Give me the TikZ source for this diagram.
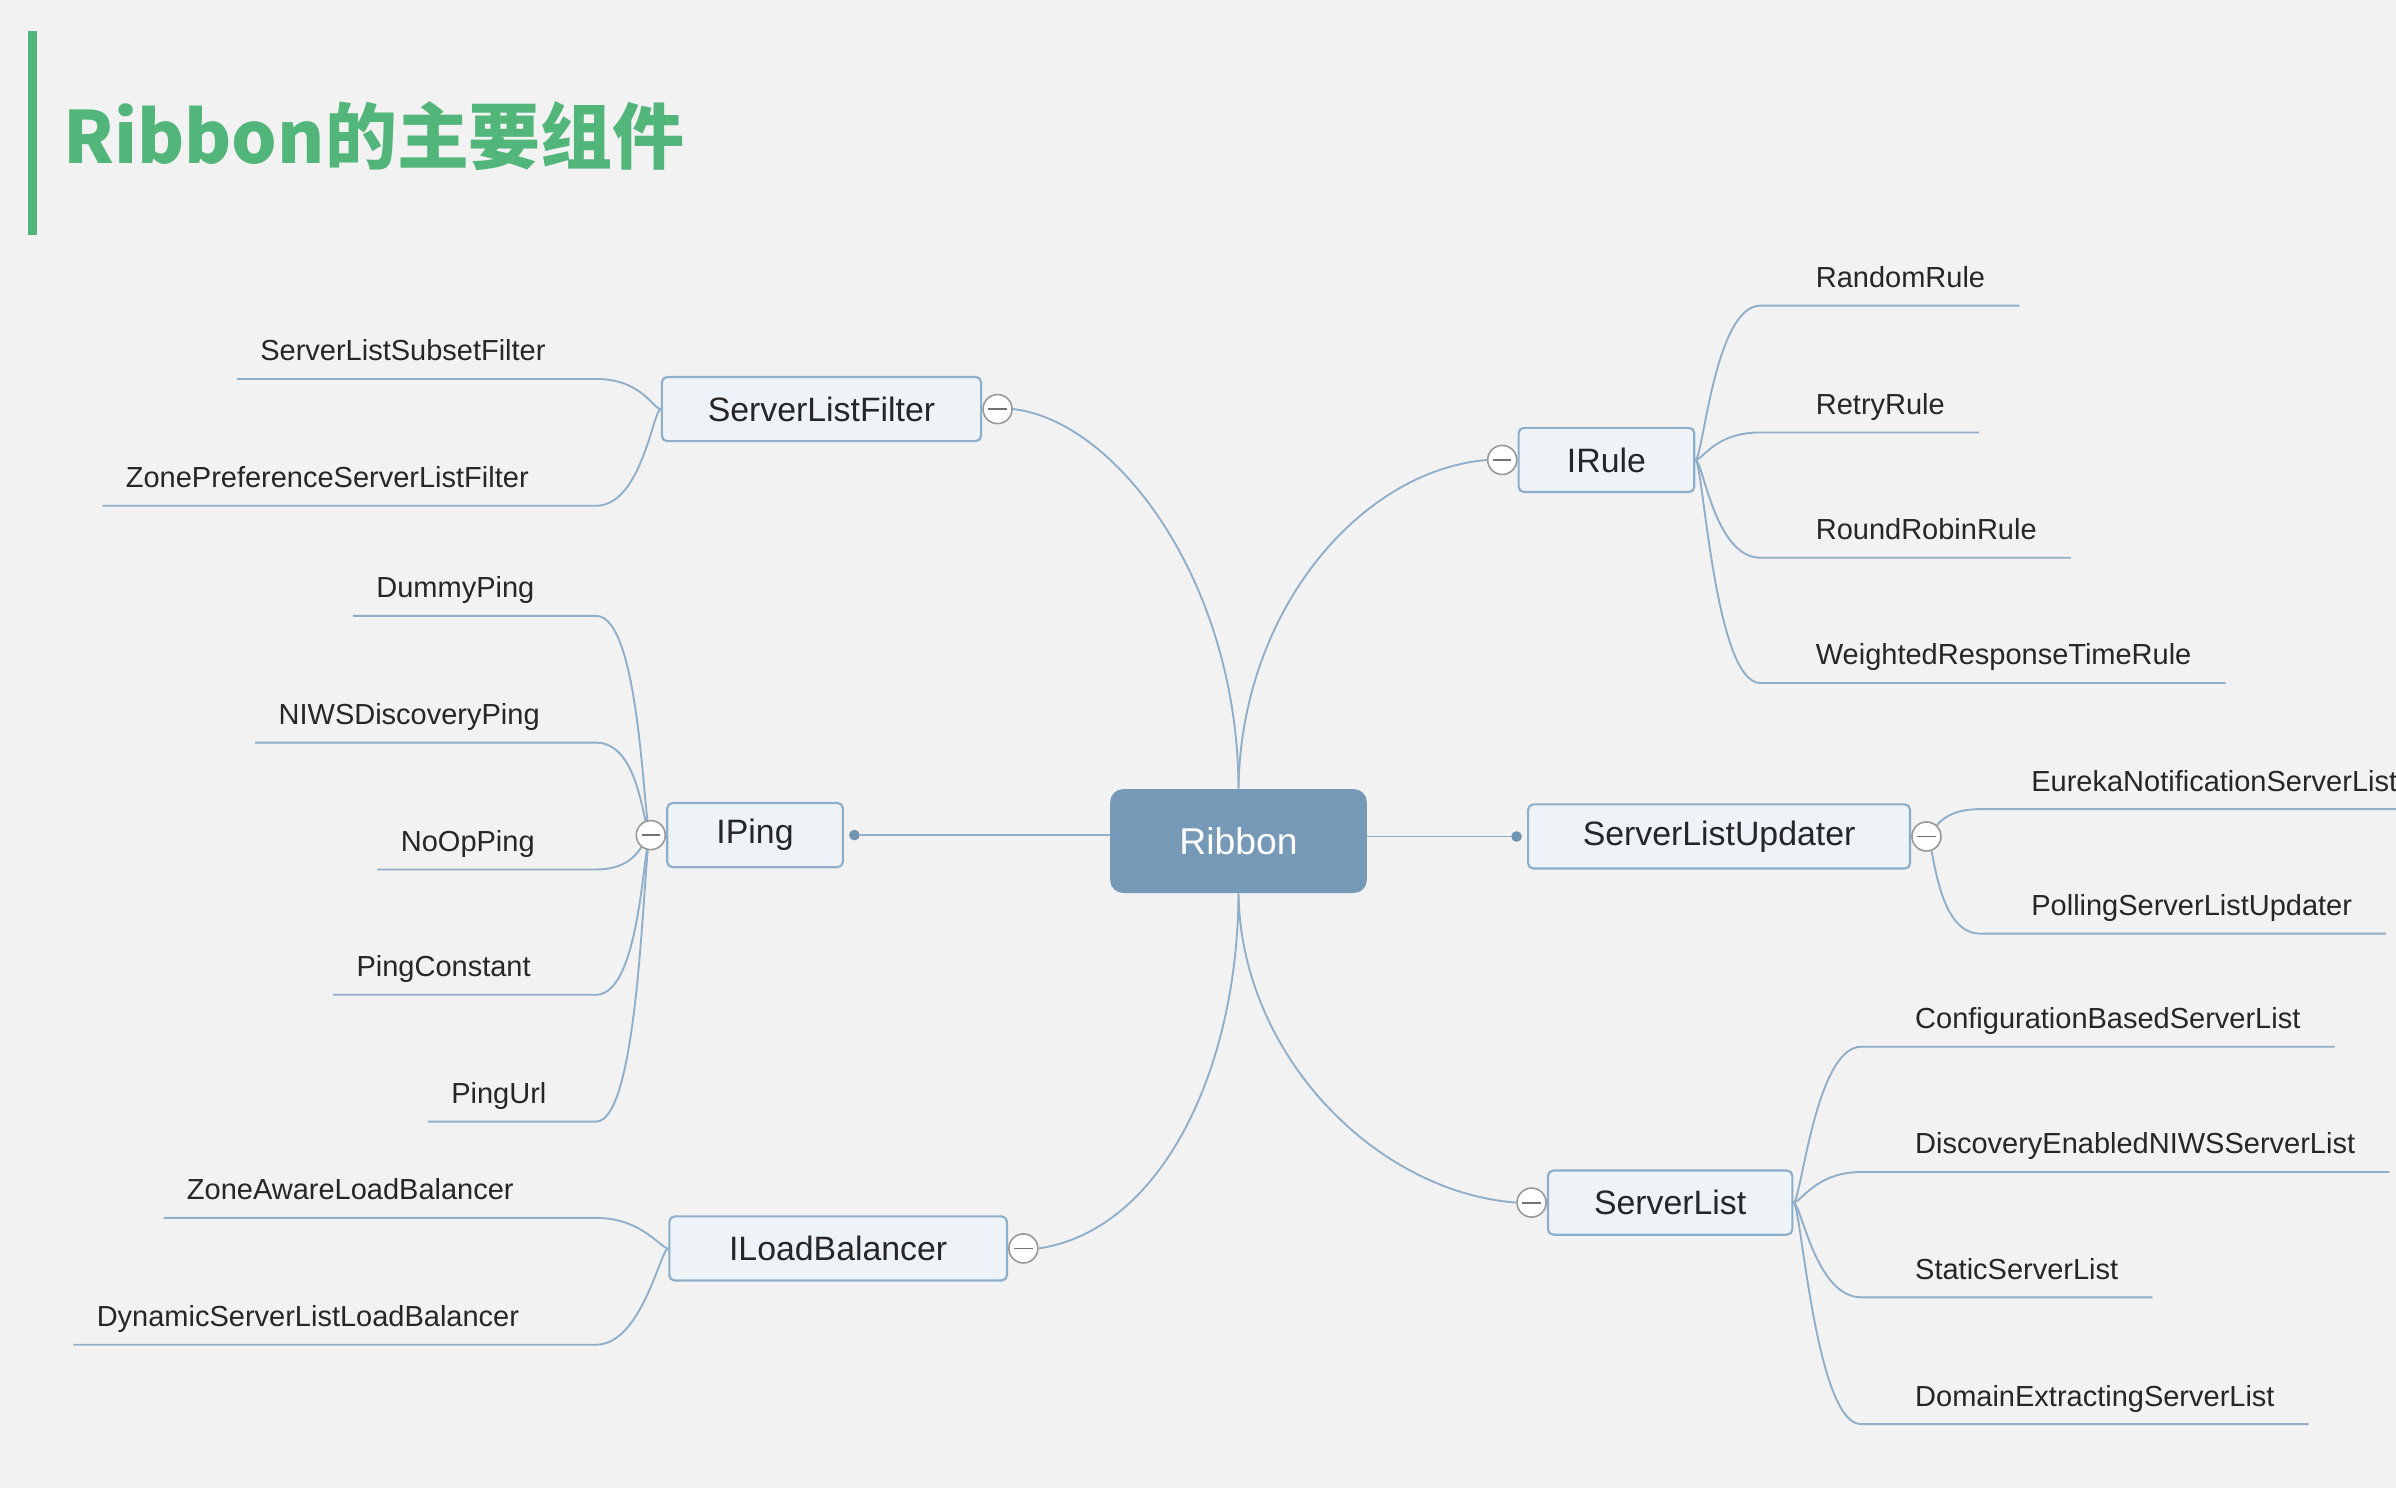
\documentclass[tikz,border=0pt]{standalone}
\usepackage{fontspec}
\setmainfont{Liberation Sans}
\newfontfamily\cjk{Noto Sans CJK SC}
\usetikzlibrary{positioning, backgrounds}

\definecolor{bgcol}{HTML}{F2F2F2}
\definecolor{titlegreen}{HTML}{52B67A}
\definecolor{twigblue}{HTML}{8FAEC9}
\definecolor{edgeblue}{HTML}{8DAECB}
\definecolor{boxfill}{HTML}{EEF3F8}
\definecolor{rootblue}{HTML}{7699B8}
\definecolor{dotblue}{HTML}{6F93B3}
\definecolor{inkgray}{HTML}{262626}

\begin{document}
\begin{tikzpicture}[
    x=0.02cm, y=-0.02cm,
    node distance=0pt,
    font=\fontsize{10.8}{13}\selectfont,
    % Estilos de cajas
    rootbox/.style={rectangle, rounded corners=0.17cm, fill=rootblue, text=white, minimum width=3.36cm, minimum height=1.36cm, font=\fontsize{13.9}{16}\selectfont},
    branchbox/.style={rectangle, rounded corners=0.07cm, draw=edgeblue, line width=0.8pt, fill=boxfill, text=inkgray, minimum height=0.84cm, font=\fontsize{12.6}{15}\selectfont},
    leafleft/.style={anchor=south west, inner xsep=0.3cm, inner ysep=0.23cm, text depth=0pt, text=inkgray},
    leafright/.style={leafleft, inner xsep=0.44cm},
    fold/.style={circle, draw=gray!80, fill=white, line width=0.6pt, minimum size=0.38cm, inner sep=0pt,
        path picture={\draw[gray!90!black, line width=0.7pt] ([xshift=-0.12cm]path picture bounding box.center) -- ([xshift=0.12cm]path picture bounding box.center);}},
    joint/.style={circle, fill=dotblue, minimum size=0.14cm, inner sep=0pt},
    twig/.style={draw=twigblue, line width=0.7pt}
]

\begin{scope}[on background layer]
    \fill[bgcol] (0,0) rectangle (1568,974);
\end{scope}
\useasboundingbox (0,0) rectangle (1568,974);

% -------------------------
% TITULO
% -------------------------
\fill[titlegreen] (18,20) rectangle (24,154);
\node[anchor=base west, inner sep=0pt, text=titlegreen, font=\cjk\bfseries\fontsize{26.8}{30}\selectfont] (title) at (41,107) {Ribbon的主要组件};

% -------------------------
% NODOS PRINCIPALES
% -------------------------
\node[rootbox] (ribbon) at (810.5,550.4) {Ribbon};

\node[branchbox, minimum width=4.18cm] (filter) at (537.6,267.7) {ServerListFilter};
\node[branchbox, minimum width=2.3cm] (ping) at (494.1,546.5) {IPing};
\node[branchbox, minimum width=4.42cm] (lb) at (548.5,817) {ILoadBalancer};
\node[branchbox, minimum width=2.3cm] (rule) at (1051.3,301) {IRule};
\node[branchbox, minimum width=5cm] (updater) at (1125,547.4) {ServerListUpdater};
\node[branchbox, minimum width=3.2cm] (list) at (1093,787) {ServerList};

\node[fold, right=of filter] (filterfold) {};
\node[fold, left=of ping] (pingfold) {};
\node[fold, right=of lb] (lbfold) {};
\node[fold, left=of rule] (rulefold) {};
\node[fold, right=of updater] (updfold) {};
\node[fold, left=of list] (listfold) {};

\node[joint, right=0.06cm of ping] (pingdot) {};
\node[joint, left=0.06cm of updater] (upddot) {};

% -------------------------
% HOJAS (Izquierda)
% -------------------------
\coordinate (leftjoin) at (390,0);

\node[leafleft] (sf1) at (155,248) {ServerListSubsetFilter};
\node[leafleft] (sf2) at (67,331) {ZonePreferenceServerListFilter};

\node[leafleft] (ping1) at (231,403) {DummyPing};
\node[leafleft] (ping2) at (167,486) {NIWSDiscoveryPing};
\node[leafleft] (ping3) at (247,569) {NoOpPing};
\node[leafleft] (ping4) at (218,651) {PingConstant};
\node[leafleft] (ping5) at (280,734) {PingUrl};

\node[leafleft] (lb1) at (107,797) {ZoneAwareLoadBalancer};
\node[leafleft] (lb2) at (48,880) {DynamicServerListLoadBalancer};

% -------------------------
% HOJAS (Derecha)
% -------------------------
\coordinate (rulejoin) at (1152,0);
\coordinate (updjoin) at (1296,0);
\coordinate (listjoin) at (1218,0);

\node[leafright] (rule1) at (1166,200) {RandomRule};
\node[leafright] (rule2) at (1166,283) {RetryRule};
\node[leafright] (rule3) at (1166,365) {RoundRobinRule};
\node[leafright] (rule4) at (1166,447) {WeightedResponseTimeRule};

\node[leafright] (upd1) at (1307,529.5) {EurekaNotificationServerList};
\node[leafright] (upd2) at (1307,611) {PollingServerListUpdater};

\node[leafright] (list1) at (1231,685) {ConfigurationBasedServerList};
\node[leafright] (list2) at (1231,767) {DiscoveryEnabledNIWSServerList};
\node[leafright] (list3) at (1231,849) {StaticServerList};
\node[leafright] (list4) at (1231,932) {DomainExtractingServerList};

% -------------------------
% CONEXIONES
% -------------------------
\begin{scope}[on background layer]
    % Ribbon -> ramas
    \draw[twig] (ribbon.west |- pingdot) -- (pingdot);
    \draw[twig] (ribbon.east |- upddot) -- (upddot);
    \draw[twig] (ribbon.north) .. controls (810,380) and (730,275) .. (filterfold.east);
    \draw[twig] (ribbon.north) .. controls (812,400) and (890,308) .. (rulefold.west);
    \draw[twig] (ribbon.south) .. controls (810,700) and (760,805) .. (lbfold.east);
    \draw[twig] (ribbon.south) .. controls (812,690) and (900,780) .. (listfold.west);

    % ramas izquierda -> hojas
    \draw[twig] (filter.west) .. controls +(-0.1cm,0) and +(0.6cm,0) .. (sf1.south west -| leftjoin) -- (sf1.south west);
    \draw[twig] (filter.west) .. controls +(-0.1cm,0) and +(0.6cm,0) .. (sf2.south west -| leftjoin) -- (sf2.south west);
    \draw[twig] (pingfold.center) .. controls +(-0.1cm,0) and +(0.6cm,0) .. (ping1.south west -| leftjoin) -- (ping1.south west);
    \draw[twig] (pingfold.center) .. controls +(-0.1cm,0) and +(0.6cm,0) .. (ping2.south west -| leftjoin) -- (ping2.south west);
    \draw[twig] (pingfold.center) .. controls +(-0.1cm,0) and +(0.6cm,0) .. (ping3.south west -| leftjoin) -- (ping3.south west);
    \draw[twig] (pingfold.center) .. controls +(-0.1cm,0) and +(0.6cm,0) .. (ping4.south west -| leftjoin) -- (ping4.south west);
    \draw[twig] (pingfold.center) .. controls +(-0.1cm,0) and +(0.6cm,0) .. (ping5.south west -| leftjoin) -- (ping5.south west);
    \draw[twig] (lb.west) .. controls +(-0.1cm,0) and +(0.6cm,0) .. (lb1.south west -| leftjoin) -- (lb1.south west);
    \draw[twig] (lb.west) .. controls +(-0.1cm,0) and +(0.6cm,0) .. (lb2.south west -| leftjoin) -- (lb2.south west);

    % ramas derecha -> hojas
    \draw[twig] (rule.east) .. controls +(0.1cm,0) and +(-0.6cm,0) .. (rule1.south west -| rulejoin) -- (rule1.south east);
    \draw[twig] (rule.east) .. controls +(0.1cm,0) and +(-0.6cm,0) .. (rule2.south west -| rulejoin) -- (rule2.south east);
    \draw[twig] (rule.east) .. controls +(0.1cm,0) and +(-0.6cm,0) .. (rule3.south west -| rulejoin) -- (rule3.south east);
    \draw[twig] (rule.east) .. controls +(0.1cm,0) and +(-0.6cm,0) .. (rule4.south west -| rulejoin) -- (rule4.south east);
    \draw[twig] (updfold.center) .. controls +(0.1cm,0) and +(-0.6cm,0) .. (upd1.south west -| updjoin) -- (upd1.south east);
    \draw[twig] (updfold.center) .. controls +(0.1cm,0) and +(-0.6cm,0) .. (upd2.south west -| updjoin) -- (upd2.south east);
    \draw[twig] (list.east) .. controls +(0.1cm,0) and +(-0.6cm,0) .. (list1.south west -| listjoin) -- (list1.south east);
    \draw[twig] (list.east) .. controls +(0.1cm,0) and +(-0.6cm,0) .. (list2.south west -| listjoin) -- (list2.south east);
    \draw[twig] (list.east) .. controls +(0.1cm,0) and +(-0.6cm,0) .. (list3.south west -| listjoin) -- (list3.south east);
    \draw[twig] (list.east) .. controls +(0.1cm,0) and +(-0.6cm,0) .. (list4.south west -| listjoin) -- (list4.south east);
\end{scope}

\end{tikzpicture}
\end{document}
